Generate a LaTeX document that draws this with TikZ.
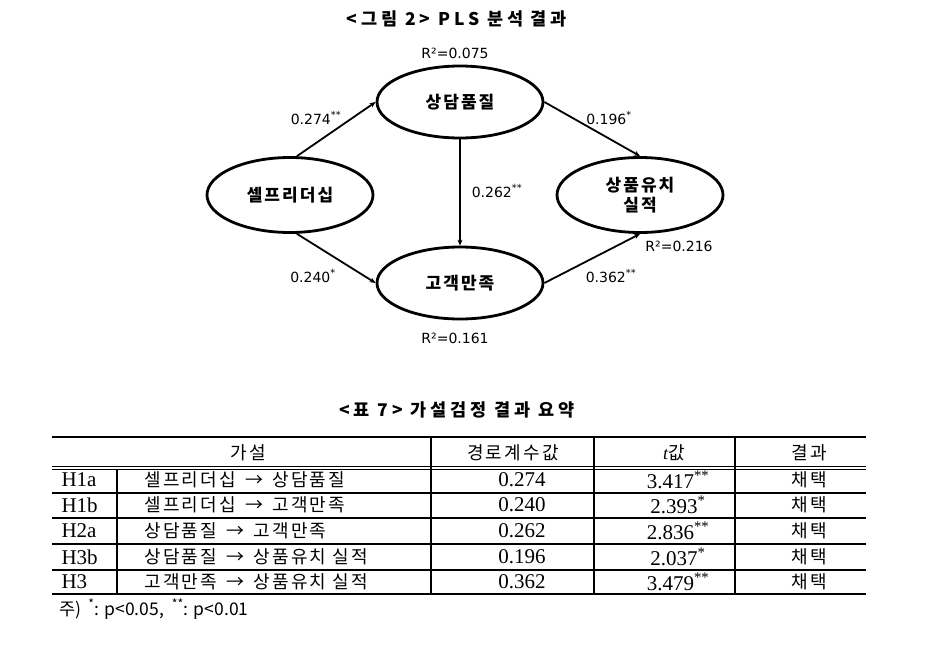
\documentclass[tikz,border=0pt]{standalone}
\usepackage{fontspec}
\usetikzlibrary{shapes.geometric,arrows.meta}
\setmainfont{Liberation Serif}
\newfontfamily\kr{Noto Sans CJK KR}
\newfontfamily\krs[LetterSpace=12]{Noto Sans CJK KR}
\newfontfamily\krw[LetterSpace=22]{Noto Sans CJK KR}
\newfontfamily\numf{DejaVu Sans}
\begin{document}
\begin{tikzpicture}[x=1pt,y=-1pt,
  ell/.style={ellipse,draw,line width=2.8pt,minimum width=166pt,minimum height=72pt,inner sep=0pt,align=center,
    font=\krs\bfseries\fontsize{17}{20}\selectfont},
  pth/.style={line width=1.8pt,-{Stealth[length=6pt,width=5pt]}},
  coef/.style={font=\numf\fontsize{14}{16}\selectfont},
  ttl/.style={font=\krw\bfseries\fontsize{17.5}{19}\selectfont},
  cellk/.style={font=\krs\fontsize{18}{20}\selectfont},
  celln/.style={font=\fontsize{21}{22}\selectfont},
  thick line/.style={line width=2.6pt},
  thin line/.style={line width=1.2pt}
]
\useasboundingbox (0,0) rectangle (931,648);
% ---------- figure ----------
\node[ttl] (t1) at (457,19) {<그림 2> PLS 분석 결과};
\node[ell] (sq) at (460,102) {상담품질};
\node[ell,minimum height=75pt] (sl) at (290,195) {셀프리더십};
\node[ell,minimum height=72pt] (gk) at (460,283) {고객만족};
\node[ell,minimum height=75pt] (sp) at (640,195) {상품유치\\실적};
\draw[pth] (sl.80) -- (sq.west);
\draw[pth] (sq.east) -- (sp.north);
\draw[pth] (sq.south) -- (gk.north);
\draw[pth] (sl.280) -- (gk.west);
\draw[pth] (gk.east) -- (sp.south);
\node[coef] (c1) at (316,118) {0.274\textsuperscript{**}};
\node[coef] (c2) at (609,118) {0.196\textsuperscript{*}};
\node[coef] (c3) at (497,191) {0.262\textsuperscript{**}};
\node[coef] (c4) at (313,276) {0.240\textsuperscript{*}};
\node[coef] (c5) at (611,276) {0.362\textsuperscript{**}};
\node[coef] (r1) at (455,53) {R²=0.075};
\node[coef] (r2) at (455,338) {R²=0.161};
\node[coef] (r3) at (679,246) {R²=0.216};
% ---------- table ----------
\node[ttl] (t2) at (457,410) {<표 7> 가설검정 결과 요약};
\draw[thick line] (52,437) -- (866,437);
\draw[line width=0.9pt] (52,466) -- (866,466);
\draw[line width=0.9pt] (52,469.5) -- (866,469.5);
\foreach \yy in {493,518,544,570} \draw[thin line] (52,\yy) -- (866,\yy);
\draw[thick line] (52,594) -- (866,594);
\draw[line width=1.4pt] (117,469.5) -- (117,594);
\foreach \xx in {431,594,735} \draw[line width=1.4pt] (\xx,437) -- (\xx,594);
% header
\node[cellk] (h1) at (248,453) {가설};
\node[cellk] (h2) at (513,453) {경로계수값};
\node[cellk] (h3) at (674,453) {{\rmfamily\itshape t}값};
\node[cellk] (h4) at (809,453) {결과};
% rows
\foreach \lab/\hyp/\coefv/\tv/\yy [count=\i] in {
  H1a/{셀프리더십 \,→\, 상담품질}/0.274/{3.417\textsuperscript{**}}/480,
  H1b/{셀프리더십 \,→\, 고객만족}/0.240/{2.393\textsuperscript{*}}/505,
  H2a/{상담품질 \,→\, 고객만족}/0.262/{2.836\textsuperscript{**}}/531,
  H3b/{상담품질 \,→\, 상품유치 실적}/0.196/{2.037\textsuperscript{*}}/557,
  H3/{고객만족 \,→\, 상품유치 실적}/0.362/{3.479\textsuperscript{**}}/582}{
  \node[celln,anchor=west] (l\i) at (58,\yy) {\lab};
  \node[cellk,anchor=west] (p\i) at (141,\yy) {\hyp};
  \node[celln] (v\i) at (522,\yy) {\coefv};
  \node[celln] (w\i) at (678,\yy) {\tv};
  \node[cellk] (a\i) at (809,\yy) {채택};
}
\node[font=\kr\fontsize{17.5}{19}\selectfont,anchor=west] (fn) at (56,609) {주) \,\textsuperscript{*}: p<0.05, \ \textsuperscript{**}: p<0.01};
\end{tikzpicture}
\end{document}
